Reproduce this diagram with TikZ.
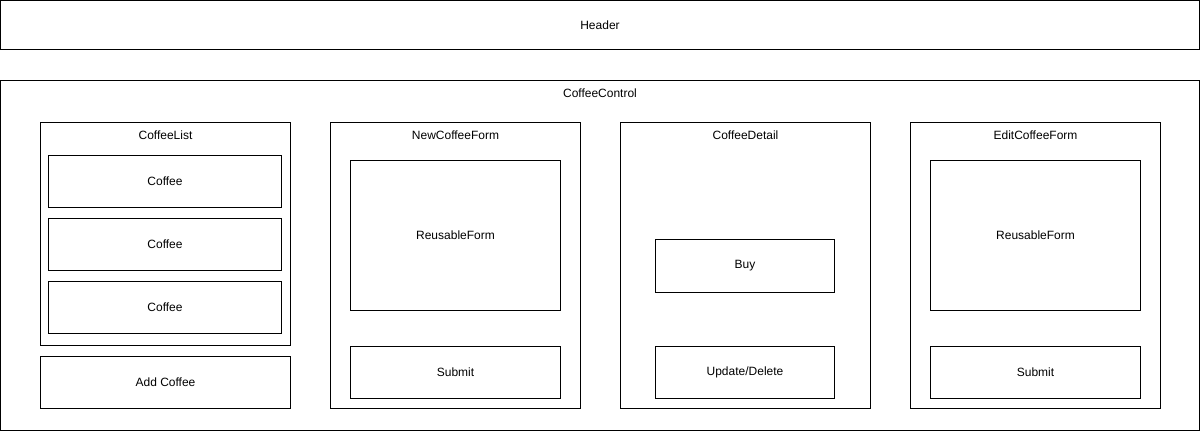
\documentclass[tikz,border=0pt]{standalone}
\usepackage{fontspec}
\setmainfont{Liberation Sans}
\begin{document}
\begin{tikzpicture}[x=0.75pt,y=-0.75pt,
  box/.style 2 args={draw=black, line width=0.75pt, inner sep=0pt, outer sep=0pt,
    minimum width=#1*0.75pt, minimum height=#2*0.75pt, font=\fontsize{9}{11}\selectfont},
  lbl/.style={inner sep=0pt, font=\fontsize{9}{11}\selectfont}]
\useasboundingbox (0,0) rectangle (1201,431);
% header
\node[box={1199}{49.5}] (header) at (600,25.25) {Header};
% control
\node[box={1199}{350}] (control) at (600,255.5) {};
\node[lbl] (controlL) at (600,93.5) {CoffeeControl};
% coffee list
\node[box={250}{223}] (list) at (165.5,234) {};
\node[lbl] (listL) at (165.5,135.5) {CoffeeList};
\node[box={233}{52}] (c1) at (165,181.5) {Coffee};
\node[box={233}{52}] (c2) at (165,244.5) {Coffee};
\node[box={233}{52}] (c3) at (165,307.5) {Coffee};
\node[box={250}{52}] (add) at (165.5,382.5) {Add Coffee};
% new form
\node[box={250}{286}] (newf) at (455.5,265.5) {};
\node[lbl] (newfL) at (455.5,135.5) {NewCoffeeForm};
\node[box={210}{150}] (rf1) at (455.5,235.5) {ReusableForm};
\node[box={210}{52}] (sub1) at (455.5,372) {Submit};
% detail
\node[box={250}{286}] (det) at (745.5,265.5) {};
\node[lbl] (detL) at (745.5,135.5) {CoffeeDetail};
\node[box={179}{52.5}] (buy) at (745,265.75) {Buy};
\node[box={179}{52}] (upd) at (745,372) {Update/Delete};
% edit form
\node[box={250}{286}] (edit) at (1035.5,265.5) {};
\node[lbl] (editL) at (1035.5,135.5) {EditCoffeeForm};
\node[box={210}{150}] (rf2) at (1035.5,235.5) {ReusableForm};
\node[box={210}{52}] (sub2) at (1035.5,372) {Submit};
\end{tikzpicture}
\end{document}
